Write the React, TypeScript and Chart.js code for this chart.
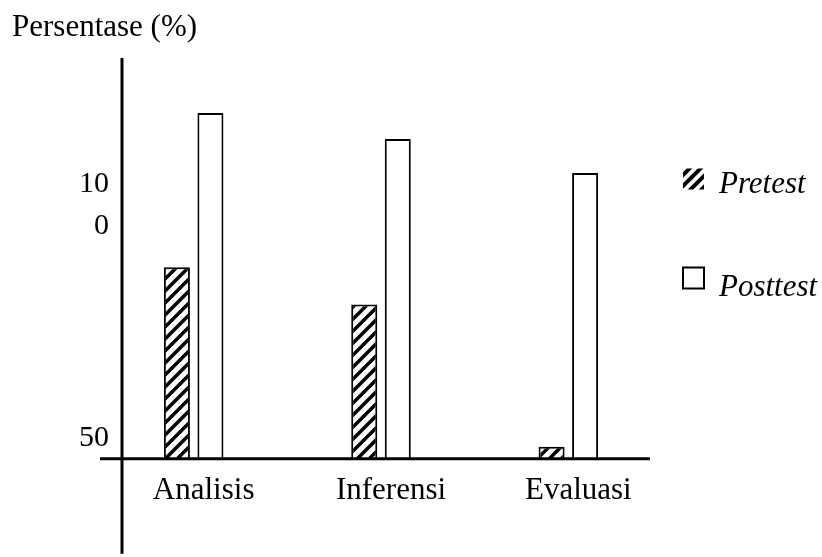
import { useEffect, useRef } from "react";
import { Chart, registerables } from "chart.js";

Chart.register(...registerables);

// ---- data ----
const categories = ["Analisis", "Inferensi", "Evaluasi"];
const seriesNames = ["Pretest", "Posttest"];
const pretestValues = [91.1, 83.1, 52.6];
const posttestValues = [124.2, 118.6, 111.3];
const yTickValues = [50, 100];
const yTickLabels: (string | string[])[] = ["50", ["10", "0"]];
const titleText = "Persentase (%)";

const FONT = "'Liberation Serif', 'Times New Roman', serif";
const legendBoxBorder = [0, 2];
const legendBoxY = [179, 278];
const legendTextY = [185, 288];

function makeHatch(size: number, width: number): CanvasPattern | string {
  const c = document.createElement("canvas");
  c.width = size;
  c.height = size;
  const g = c.getContext("2d");
  if (!g) return "#888";
  g.fillStyle = "#fff";
  g.fillRect(0, 0, size, size);
  g.strokeStyle = "#000";
  g.lineWidth = width;
  g.beginPath();
  g.moveTo(-size / 2, size / 2);
  g.lineTo(size / 2, -size / 2);
  g.moveTo(0, size);
  g.lineTo(size, 0);
  g.moveTo(size / 2, size * 1.5);
  g.lineTo(size * 1.5, size / 2);
  g.stroke();
  return g.createPattern(c, "repeat") || "#888";
}

export default function App() {
  const ref = useRef<HTMLCanvasElement | null>(null);

  useEffect(() => {
    if (!ref.current) return;
    const hatch = makeHatch(12, 3.5);
    const legendHatch = makeHatch(11, 4);

    const decorPlugin = {
      id: "decor",
      afterDatasetsDraw(chart: any) {
        const { ctx, chartArea, scales } = chart;
        const y0 = scales.y.getPixelForValue(50);
        ctx.save();
        ctx.strokeStyle = "#000";
        ctx.lineWidth = 3;
        ctx.beginPath();
        ctx.moveTo(chartArea.left, y0);
        ctx.lineTo(chartArea.right - 12, y0);
        ctx.moveTo(chartArea.left + 22, chartArea.top);
        ctx.lineTo(chartArea.left + 22, y0 + 95);
        ctx.stroke();

        // legend
        chart.data.datasets.forEach((ds: any, i: number) => {
          const bx = 683;
          const bw = 21;
          const bh = 21;
          const by = legendBoxY[i] - bh / 2;
          ctx.fillStyle = i === 0 ? legendHatch : ds.backgroundColor;
          ctx.fillRect(bx, by, bw, bh);
          if (legendBoxBorder[i] > 0) {
            ctx.lineWidth = legendBoxBorder[i];
            ctx.strokeStyle = "#000";
            ctx.strokeRect(bx, by, bw, bh);
          }
          ctx.fillStyle = "#000";
          ctx.font = `italic 31px ${FONT}`;
          ctx.textBaseline = "middle";
          ctx.textAlign = "left";
          ctx.fillText(ds.label, 719, legendTextY[i]);
        });
        ctx.restore();
      },
    };

    const chart = new Chart(ref.current, {
      type: "bar",
      data: {
        labels: categories,
        datasets: [
          {
            label: seriesNames[0],
            data: pretestValues,
            backgroundColor: hatch as any,
            borderColor: "#000",
            borderWidth: 2,
            borderSkipped: false,
            categoryPercentage: 0.358,
            barPercentage: 0.776,
          },
          {
            label: seriesNames[1],
            data: posttestValues,
            backgroundColor: "#fff",
            borderColor: "#000",
            borderWidth: 2,
            borderSkipped: false,
            categoryPercentage: 0.358,
            barPercentage: 0.776,
          },
        ],
      },
      options: {
        responsive: false,
        animation: false,
        events: [],
        layout: { padding: { left: 12, right: 160, top: 0, bottom: 35 } },
        plugins: {
          legend: { display: false },
          tooltip: { enabled: false },
          title: {
            display: true,
            text: titleText,
            align: "start",
            color: "#000",
            font: { family: FONT, size: 31, weight: "normal" },
            padding: { top: 9, bottom: 11.8 },
          },
        },
        scales: {
          x: {
            type: "category",
            offset: true,
            grid: { display: false, drawTicks: false },
            border: { display: false },
            ticks: {
              color: "#000",
              font: { family: FONT, size: 31 },
              padding: 13,
              labelOffset: 10,
              maxRotation: 0,
              autoSkip: false,
            },
          },
          y: {
            type: "linear",
            min: 50,
            max: 136,
            grid: { display: false, drawTicks: false },
            border: { display: false },
            afterBuildTicks: (s: any) => {
              s.ticks = yTickValues.map((v) => ({ value: v }));
            },
            afterFit: (s: any) => {
              s.width = 88;
            },
            ticks: {
              color: "#000",
              font: { family: FONT, size: 30, lineHeight: 1.4 },
              mirror: true,
              crossAlign: "far",
              padding: -21,
              labelOffset: -21,
              callback: (v: any) => {
                const i = yTickValues.indexOf(Number(v));
                return i >= 0 ? yTickLabels[i] : "";
              },
            },
          },
        },
      },
      plugins: [decorPlugin],
    } as any);
    return () => chart.destroy();
  }, []);

  return (
    <div style={{ position: "absolute", left: 0, top: 0, width: 822, height: 557, background: "#fff" }}>
      <canvas ref={ref} width={822} height={557} style={{ display: "block" }} />
    </div>
  );
}
